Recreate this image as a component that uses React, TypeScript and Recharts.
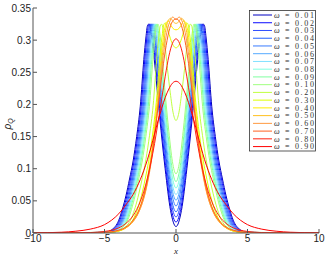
import { LineChart, Line, XAxis, YAxis } from 'recharts';

type Pt = [number, number];

// legend labels and line colours, in drawing order
const OMEGAS = ['0.01', '0.02', '0.03', '0.04', '0.05', '0.06', '0.07', '0.08', '0.09', '0.10', '0.20', '0.30', '0.40', '0.50', '0.60', '0.70', '0.80', '0.90'];
const COLORS = ['#0000c0', '#0a0aff', '#2f4dff', '#2060ff', '#3a7cff', '#55aaff', '#80e0ff', '#80ffe0', '#80ffa0', '#a0ff80', '#c0ff40', '#ddff00', '#ffee00', '#ffc020', '#ff9a40', '#ff6020', '#ff2010', '#ff0000'];

const W001: Pt[] = [[0, 0.010], [0.38, 0.035], [0.76, 0.100], [1.14, 0.180], [1.52, 0.270], [1.71, 0.306], [1.90, 0.325], [2.00, 0.322], [2.10, 0.305], [2.25, 0.270], [2.50, 0.197], [2.75, 0.150], [3.00, 0.112], [3.25, 0.084], [3.50, 0.058], [3.75, 0.037], [4.00, 0.020], [4.50, 0.005], [5.00, 0.001], [10, 0]];
const W002: Pt[] = [[0, 0.017], [0.37, 0.042], [0.73, 0.105], [1.10, 0.183], [1.46, 0.271], [1.65, 0.307], [1.83, 0.325], [1.93, 0.322], [2.03, 0.305], [2.18, 0.270], [2.43, 0.197], [2.68, 0.150], [2.93, 0.112], [3.18, 0.084], [3.43, 0.058], [3.68, 0.037], [3.93, 0.020], [4.43, 0.005], [4.93, 0.001], [10, 0]];
const W003: Pt[] = [[0, 0.025], [0.35, 0.049], [0.70, 0.111], [1.06, 0.187], [1.41, 0.273], [1.58, 0.307], [1.76, 0.325], [1.86, 0.322], [1.96, 0.305], [2.11, 0.270], [2.36, 0.197], [2.61, 0.150], [2.86, 0.112], [3.11, 0.084], [3.36, 0.058], [3.61, 0.037], [3.86, 0.020], [4.36, 0.005], [4.86, 0.001], [10, 0]];
const W004: Pt[] = [[0, 0.033], [0.34, 0.056], [0.68, 0.116], [1.01, 0.191], [1.35, 0.274], [1.52, 0.307], [1.69, 0.325], [1.79, 0.322], [1.89, 0.305], [2.04, 0.270], [2.29, 0.197], [2.54, 0.150], [2.79, 0.112], [3.04, 0.084], [3.29, 0.058], [3.54, 0.037], [3.79, 0.020], [4.29, 0.005], [4.79, 0.001], [10, 0]];
const W005: Pt[] = [[0, 0.042], [0.32, 0.065], [0.65, 0.123], [0.97, 0.195], [1.30, 0.275], [1.46, 0.308], [1.62, 0.325], [1.72, 0.322], [1.82, 0.305], [1.97, 0.270], [2.22, 0.197], [2.47, 0.150], [2.72, 0.112], [2.97, 0.084], [3.22, 0.058], [3.47, 0.037], [3.72, 0.020], [4.22, 0.005], [4.72, 0.001], [10, 0]];
const W006: Pt[] = [[0, 0.051], [0.31, 0.073], [0.62, 0.129], [0.93, 0.199], [1.24, 0.277], [1.40, 0.309], [1.55, 0.325], [1.65, 0.322], [1.75, 0.305], [1.90, 0.270], [2.15, 0.197], [2.40, 0.150], [2.65, 0.112], [2.90, 0.084], [3.15, 0.058], [3.40, 0.037], [3.65, 0.020], [4.15, 0.005], [4.65, 0.001], [10, 0]];
const W007: Pt[] = [[0, 0.060], [0.30, 0.081], [0.59, 0.136], [0.89, 0.203], [1.18, 0.279], [1.33, 0.309], [1.48, 0.325], [1.58, 0.322], [1.68, 0.305], [1.83, 0.270], [2.08, 0.197], [2.33, 0.150], [2.58, 0.112], [2.83, 0.084], [3.08, 0.058], [3.33, 0.037], [3.58, 0.020], [4.08, 0.005], [4.58, 0.001], [10, 0]];
const W008: Pt[] = [[0, 0.070], [0.28, 0.090], [0.56, 0.143], [0.85, 0.208], [1.13, 0.280], [1.27, 0.310], [1.41, 0.325], [1.51, 0.322], [1.61, 0.305], [1.76, 0.270], [2.01, 0.197], [2.26, 0.150], [2.51, 0.112], [2.76, 0.084], [3.01, 0.058], [3.26, 0.037], [3.51, 0.020], [4.01, 0.005], [4.51, 0.001], [10, 0]];
const W009: Pt[] = [[0, 0.080], [0.27, 0.100], [0.54, 0.150], [0.80, 0.212], [1.07, 0.282], [1.21, 0.310], [1.34, 0.325], [1.44, 0.322], [1.54, 0.305], [1.69, 0.270], [1.94, 0.197], [2.19, 0.150], [2.44, 0.112], [2.69, 0.084], [2.94, 0.058], [3.19, 0.037], [3.44, 0.020], [3.94, 0.005], [4.44, 0.001], [10, 0]];
const W010: Pt[] = [[0, 0.092], [0.25, 0.111], [0.50, 0.158], [0.76, 0.218], [1.01, 0.284], [1.13, 0.311], [1.26, 0.325], [1.36, 0.322], [1.46, 0.305], [1.61, 0.270], [1.86, 0.197], [2.11, 0.150], [2.36, 0.112], [2.61, 0.084], [2.86, 0.058], [3.11, 0.037], [3.36, 0.021], [3.86, 0.006], [4.36, 0.0015], [10, 0]];
const W020: Pt[] = [[0, 0.175], [0.2, 0.187], [0.4, 0.218], [0.6, 0.256], [0.8, 0.299], [0.9, 0.316], [1.0, 0.325], [1.1, 0.322], [1.2, 0.305], [1.35, 0.270], [1.6, 0.198], [1.85, 0.152], [2.1, 0.115], [2.35, 0.086], [2.6, 0.061], [2.85, 0.040], [3.1, 0.024], [3.6, 0.008], [4.1, 0.0025], [5, 0.0005], [10, 0]];
const W030: Pt[] = [[0, 0.288], [0.2, 0.292], [0.4, 0.303], [0.55, 0.315], [0.65, 0.323], [0.75, 0.327], [0.85, 0.324], [0.95, 0.310], [1.1, 0.280], [1.35, 0.210], [1.6, 0.160], [1.85, 0.120], [2.1, 0.090], [2.35, 0.064], [2.6, 0.043], [2.85, 0.028], [3.1, 0.017], [3.6, 0.007], [4.1, 0.0025], [5, 0.0005], [10, 0]];
const W040: Pt[] = [[0, 0.316], [0.2, 0.318], [0.35, 0.323], [0.55, 0.330], [0.7, 0.326], [0.85, 0.310], [1.0, 0.282], [1.25, 0.220], [1.5, 0.165], [1.75, 0.120], [2.0, 0.086], [2.25, 0.060], [2.5, 0.041], [2.75, 0.028], [3.0, 0.019], [3.5, 0.008], [4.0, 0.0035], [4.5, 0.0015], [5, 0.0006], [10, 0]];
const W050: Pt[] = [[0, 0.326], [0.2, 0.329], [0.38, 0.334], [0.55, 0.330], [0.75, 0.312], [1.0, 0.268], [1.25, 0.208], [1.5, 0.155], [1.75, 0.112], [2.0, 0.079], [2.25, 0.055], [2.5, 0.038], [2.75, 0.026], [3.0, 0.018], [3.5, 0.008], [4.0, 0.0035], [4.5, 0.0015], [5, 0.0006], [10, 0]];
const W060: Pt[] = [[0, 0.332], [0.22, 0.336], [0.45, 0.328], [0.7, 0.305], [1.0, 0.255], [1.25, 0.200], [1.5, 0.150], [1.75, 0.108], [2.0, 0.077], [2.25, 0.054], [2.5, 0.038], [2.75, 0.026], [3.0, 0.018], [3.5, 0.0085], [4.0, 0.004], [4.5, 0.0018], [5, 0.0008], [6, 0.0002], [10, 0]];
const W070: Pt[] = [[0, 0.333], [0.25, 0.329], [0.5, 0.313], [0.75, 0.283], [1.0, 0.243], [1.25, 0.197], [1.5, 0.152], [1.75, 0.113], [2.0, 0.082], [2.5, 0.041], [3.0, 0.020], [3.5, 0.0095], [4.0, 0.0045], [4.5, 0.002], [5, 0.001], [6, 0.0002], [10, 0]];
const W080: Pt[] = [[0, 0.302], [0.25, 0.295], [0.5, 0.275], [0.75, 0.244], [1.0, 0.209], [1.25, 0.173], [1.5, 0.139], [2.0, 0.085], [2.5, 0.049], [3.0, 0.027], [3.5, 0.015], [4.0, 0.008], [4.5, 0.0044], [5, 0.0024], [6, 0.0007], [7, 0.0002], [10, 0]];
const W090: Pt[] = [[0, 0.236], [0.25, 0.233], [0.5, 0.224], [0.75, 0.211], [1.0, 0.194], [1.25, 0.175], [1.5, 0.154], [2.0, 0.114], [2.5, 0.083], [3.0, 0.060], [3.5, 0.044], [4.0, 0.030], [4.5, 0.020], [5, 0.013], [6, 0.006], [7, 0.0028], [8, 0.0012], [9, 0.0005], [10, 0.0002]];

const PROFILES = [W001, W002, W003, W004, W005, W006, W007, W008, W009, W010, W020, W030, W040, W050, W060, W070, W080, W090];

const X_TICKS = [-10, -5, 0, 5, 10];
const Y_TICKS = [0, 0.05, 0.1, 0.15, 0.2, 0.25, 0.3, 0.35];

// the stored half is reflected to get the x < 0 side
function mirror(half: Pt[]) {
  const left = half.filter(([x]) => x > 0).map(([x, y]) => ({ x: -x, y })).reverse();
  return [...left, ...half.map(([x, y]) => ({ x, y }))];
}

const series = PROFILES.map((p, i) => ({ name: OMEGAS[i], color: COLORS[i], data: mirror(p) }));

const FRAME = '#555';
const tickFont = { fontSize: 10, fill: '#222', fontFamily: '"Liberation Sans", Arial, sans-serif' };
const fmtX = (v: number) => (v < 0 ? `\u2212${-v}` : `${v}`);

function LegendBox() {
  const rowH = 7.74;
  return (
    <g>
      <rect x={249.5} y={10.5} width={66} height={140.5} fill="#fff" stroke="#333" strokeWidth={0.8} />
      {series.map((s, i) => {
        const y = 15 + i * rowH;
        return (
          <g key={s.name}>
            <line x1={253} x2={272} y1={y} y2={y} stroke={s.color} strokeWidth={1} />
            <text x={274} y={y + 2.8} fontSize={8} fill="#333" fontFamily='"Liberation Serif", serif' textLength={40} lengthAdjust="spacing">
              <tspan fontStyle="italic">ω</tspan> = {s.name}
            </text>
          </g>
        );
      })}
    </g>
  );
}

export default function App() {
  return (
    <div style={{ position: 'absolute', left: 0, top: 0, width: 327, height: 254, background: '#fff' }}>
      <LineChart width={327} height={254} margin={{ top: 8, right: 8, bottom: 0, left: 0 }}>
        <XAxis
          dataKey="x"
          type="number"
          domain={[-10, 10]}
          ticks={X_TICKS}
          allowDataOverflow
          height={21}
          tickSize={-4}
          tickMargin={6}
          tickFormatter={fmtX}
          tick={tickFont}
          axisLine={{ stroke: FRAME }}
          tickLine={{ stroke: FRAME }}
        />
        <XAxis
          xAxisId="top"
          orientation="top"
          type="number"
          domain={[-10, 10]}
          ticks={X_TICKS}
          height={0}
          tickSize={-4}
          tick={false}
          axisLine={{ stroke: FRAME }}
          tickLine={{ stroke: FRAME }}
        />
        <YAxis
          type="number"
          domain={[0, 0.35]}
          ticks={Y_TICKS}
          allowDataOverflow
          width={33}
          tickSize={-4}
          tickMargin={6}
          tick={tickFont}
          axisLine={{ stroke: FRAME }}
          tickLine={{ stroke: FRAME }}
        />
        <YAxis
          yAxisId="right"
          orientation="right"
          type="number"
          domain={[0, 0.35]}
          ticks={Y_TICKS}
          width={0}
          tickSize={-4}
          tick={false}
          axisLine={{ stroke: FRAME }}
          tickLine={{ stroke: FRAME }}
        />
        {series.map((s) => (
          <Line
            key={s.name}
            data={s.data}
            dataKey="y"
            type="monotone"
            stroke={s.color}
            strokeWidth={1}
            dot={false}
            activeDot={false}
            isAnimationActive={false}
          />
        ))}
      </LineChart>
      <svg width={327} height={254} style={{ position: 'absolute', left: 0, top: 0, pointerEvents: 'none' }}>
        <LegendBox />
        <text x={176} y={253.5} textAnchor="middle" fontSize={9} fontStyle="italic" fontFamily='"Liberation Serif", serif' fill="#222">x</text>
        <text transform="translate(11,124) rotate(-90)" textAnchor="middle" fontSize={10} fontStyle="italic" fontFamily='"Liberation Sans", Arial, sans-serif' fill="#222">
          ρ<tspan fontSize={7} dy={2}>Q</tspan>
        </text>
      </svg>
    </div>
  );
}
